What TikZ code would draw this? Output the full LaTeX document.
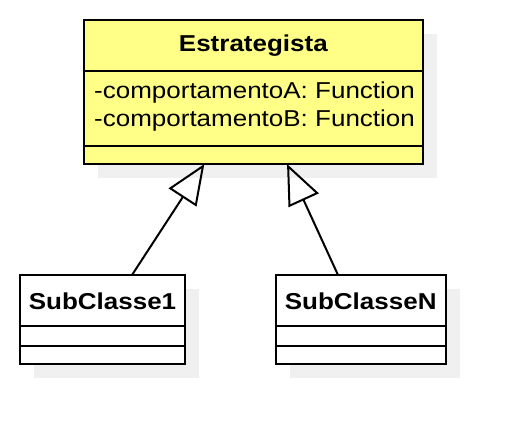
\documentclass[tikz,border=0pt]{standalone}
\usepackage{fontspec}
\setmainfont{Liberation Sans}
\newfontfamily\umlfont[FakeStretch=1.13]{Liberation Sans}
\usetikzlibrary{arrows.meta,shadows}
\definecolor{umlyellow}{HTML}{FFFF88}
\definecolor{shadowgray}{HTML}{F0F0F0}
\begin{document}
\begin{tikzpicture}[x=1pt,y=-1pt,
  cls/.style={draw=black, line width=2pt, rectangle, inner sep=0pt, outer sep=0pt,
    general shadow={shadow xshift=14pt, shadow yshift=-14pt, fill=shadowgray}},
  sepline/.style={line width=2pt},
  titletext/.style={font=\umlfont\fontsize{23}{28}\selectfont\bfseries, anchor=base, inner sep=0pt},
  attrtext/.style={font=\umlfont\fontsize{23}{28}\selectfont, anchor=base west, inner sep=0pt},
  gen/.style={line width=2pt, -{Triangle[open, length=40pt, width=33pt]}}]
\useasboundingbox (0,0) rectangle (524,444);
% main class
\node[cls, fill=umlyellow, minimum width=338.7pt, minimum height=144pt] (main) at (253.35,92) {};
\draw[sepline] (main.west |- 0,70.7) -- (main.east |- 0,70.7);
\draw[sepline] (main.west |- 0,146) -- (main.east |- 0,146);
\node[titletext] (mtitle) at (253.35,51.5) {Estrategista};
\node[attrtext] (attrA) at (94,98.7) {-comportamentoA: Function};
\node[attrtext] (attrB) at (94,126.7) {-comportamentoB: Function};
% subclass 1
\node[cls, fill=white, minimum width=165pt, minimum height=89pt] (sub1) at (102.5,319.5) {};
\draw[sepline] (sub1.west |- 0,326) -- (sub1.east |- 0,326);
\draw[sepline] (sub1.west |- 0,346) -- (sub1.east |- 0,346);
\node[titletext] (sub1title) at (102.5,309) {SubClasse1};
% subclass N
\node[cls, fill=white, minimum width=170pt, minimum height=89pt] (subN) at (360.7,319.5) {};
\draw[sepline] (subN.west |- 0,326) -- (subN.east |- 0,326);
\draw[sepline] (subN.west |- 0,346) -- (subN.east |- 0,346);
\node[titletext] (subNtitle) at (360.7,309) {SubClasseN};
% generalizations
\draw[gen] ([xshift=29.5pt]sub1.north) -- ([xshift=-49pt]main.south);
\draw[gen] ([xshift=-22.7pt]subN.north) -- ([xshift=33.7pt]main.south);
\end{tikzpicture}
\end{document}
